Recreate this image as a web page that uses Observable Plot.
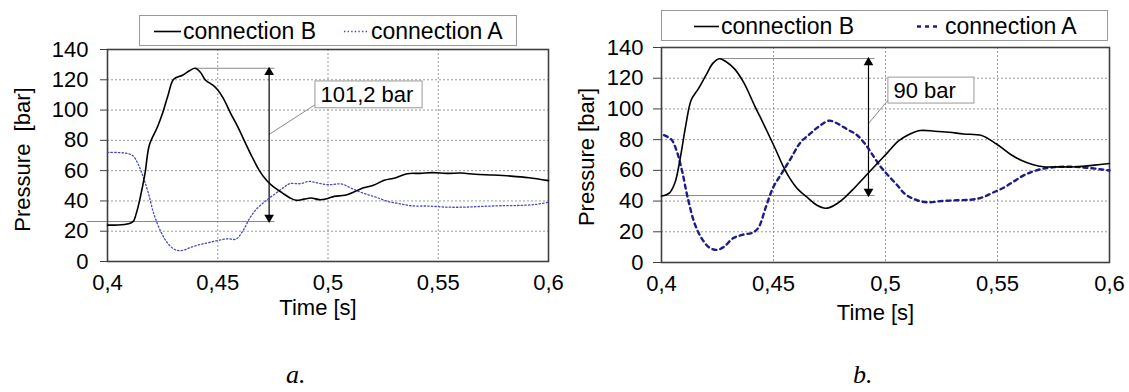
<!DOCTYPE html>
<html><head><meta charset="utf-8">
<script src="https://cdn.jsdelivr.net/npm/d3@7"></script>
<script src="https://cdn.jsdelivr.net/npm/@observablehq/plot@0.6"></script>
<style>
body{margin:0;background:#fff;font-family:"Liberation Sans",Arial,sans-serif;}
#wrap{position:relative;width:1129px;height:392px;overflow:hidden;background:#fff;}
.panel{position:absolute;top:0;}
.legend{position:absolute;box-sizing:border-box;border:1px solid #999;background:#fff;font-size:23px;color:#000;}
.legend span{position:absolute;white-space:nowrap;}
.legend svg{position:absolute;top:0;}
.cap{position:absolute;font-family:"Liberation Serif",serif;font-style:italic;font-size:26px;line-height:0.8;}
</style></head><body><div id="wrap"></div>
<script>
// ---- data ----
const leftTimeB = [0.4, 0.4113, 0.413, 0.4149, 0.417, 0.419, 0.4227, 0.425, 0.4275, 0.430, 0.434, 0.4372, 0.4397, 0.4421, 0.4445, 0.4478, 0.4502, 0.4526, 0.4559, 0.4591, 0.4623, 0.4656, 0.4688, 0.4721, 0.4753, 0.4794, 0.4826, 0.4855, 0.4891, 0.4923, 0.4964, 0.4996, 0.5028, 0.5077, 0.5117, 0.5158, 0.5206, 0.5255, 0.5304, 0.536, 0.5417, 0.5474, 0.5538, 0.5603, 0.5668, 0.5749, 0.583, 0.5911, 0.6];
const leftPressureB = [24, 26, 31.5, 42.6, 58, 77, 89, 98, 110, 120.4, 123, 126, 127.6, 125, 119.7, 116.4, 113, 107.6, 97.7, 88.9, 79, 69, 60.2, 53.6, 49.2, 45.2, 42.1, 40.4, 41.2, 41.9, 40.8, 41.5, 43, 43.7, 45.9, 48.5, 50.3, 53.6, 55.1, 58, 58.2, 58.7, 58.2, 58.4, 57.6, 57.1, 56.4, 55.3, 53.4];
const leftTimeA = [0.4, 0.4073, 0.4113, 0.4138, 0.4162, 0.4186, 0.421, 0.4243, 0.4275, 0.4308, 0.434, 0.4372, 0.4413, 0.4453, 0.4502, 0.4543, 0.4583, 0.4615, 0.4648, 0.468, 0.4721, 0.4761, 0.4802, 0.4826, 0.4875, 0.4915, 0.4955, 0.5004, 0.5061, 0.5109, 0.5166, 0.5215, 0.5271, 0.5328, 0.5377, 0.5457, 0.5538, 0.5619, 0.57, 0.5781, 0.5862, 0.5943, 0.6];
const leftPressureA = [72, 71.7, 70.1, 64.6, 55.8, 44.8, 31.5, 19.4, 11.7, 7.7, 7.3, 9, 11, 12.3, 13.9, 15, 14.8, 20.5, 29.3, 35.3, 40.4, 44.8, 49.2, 51.4, 51.4, 52.9, 51.8, 50.7, 51.2, 48.1, 44.8, 42.6, 39.7, 38.1, 36.8, 36.6, 35.9, 35.9, 36.4, 36.8, 37, 37.7, 39.2];

const rightTimeB = [0.4, 0.4036, 0.406, 0.4084, 0.4109, 0.4133, 0.4165, 0.4198, 0.423, 0.4258, 0.4287, 0.4327, 0.4368, 0.4417, 0.4457, 0.4506, 0.4554, 0.4603, 0.4652, 0.4692, 0.4733, 0.4773, 0.4814, 0.4862, 0.4911, 0.4959, 0.5008, 0.5057, 0.5105, 0.5154, 0.5219, 0.5284, 0.5348, 0.5429, 0.5494, 0.5559, 0.5608, 0.5656, 0.5705, 0.577, 0.5851, 0.5932, 0.6];
const rightPressureB = [43.3, 45.4, 51.9, 68.2, 89.8, 106, 113.2, 121.8, 129.8, 132.7, 130.9, 125.9, 116.9, 101.7, 89.8, 74.7, 59.5, 48.7, 42.2, 37.4, 35.3, 37.4, 41.8, 48.7, 56.3, 63.8, 71.4, 79, 83.3, 85.9, 85.5, 84.8, 83.7, 82.7, 77.3, 70.3, 66.4, 63.8, 62.3, 62.3, 62.3, 63.4, 64.5];
const rightTimeA = [0.4011, 0.4044, 0.4068, 0.4092, 0.4117, 0.4149, 0.4182, 0.4214, 0.4246, 0.4279, 0.4319, 0.436, 0.4408, 0.4433, 0.4465, 0.4498, 0.4538, 0.4579, 0.4619, 0.4668, 0.4708, 0.4749, 0.4789, 0.483, 0.487, 0.4911, 0.4943, 0.4976, 0.5008, 0.5049, 0.5089, 0.5138, 0.5186, 0.5251, 0.5316, 0.5381, 0.5429, 0.5478, 0.5527, 0.5575, 0.5624, 0.5689, 0.5754, 0.5835, 0.5899, 0.5964, 0.6];
const rightPressureA = [82.9, 80.1, 72.5, 59.5, 42.2, 24.9, 15.1, 9.7, 8.2, 10.2, 15.8, 18, 19.5, 22.7, 35.7, 48.7, 58.4, 68.2, 77.9, 84.4, 89.2, 92.4, 90.2, 86.6, 83.3, 76.8, 69.9, 62.8, 57.3, 50.9, 44.4, 40.7, 39.2, 40, 40.5, 40.9, 42.2, 45.4, 48.7, 53, 57.3, 60.6, 62.1, 62.3, 61.7, 60.6, 59.9];

const timeTicks = [0.4, 0.45, 0.5, 0.55, 0.6];
const pressureTicks = [0, 20, 40, 60, 80, 100, 120, 140];
const legendLabels = ["connection B", "connection A"];
const yLabels = ["Pressure\u00a0\u00a0[bar]", "Pressure [bar]"];
const xLabel = "Time [s]";
const panelCaptions = ["a.", "b."];

// pressure-range annotation (per panel: left, right)
const rangeLabels = ["101,2 bar", "90 bar"];
const rangeTop = [127.6, 132.8];
const rangeBottom = [26.4, 43.6];
const rangePeakTime = [0.4397, 0.4254];
const rangeBaseStart = [0.3905, 0.4];
const rangeLineEnd = [0.4757, 0.4951];
const rangeArrowTime = [0.4733, 0.4924];
const leaderFromPressure = [83.9, 90.5];
const boxTime1 = [0.4943, 0.5013];
const boxTime2 = [0.5429, 0.5397];
const boxPressure1 = [101.2, 103.5];
const boxPressure2 = [118.9, 120.4];

const fmt = d => String(d).replace(".", ",");
const zip = (ts, ps) => ts.map((t, i) => ({t, p: ps[i]}));

function panel(k, cfg) {
  const B = k === 0 ? zip(leftTimeB, leftPressureB) : zip(rightTimeB, rightPressureB);
  const A = k === 0 ? zip(leftTimeA, leftPressureA) : zip(rightTimeA, rightPressureA);
  const gray = "#8a8a8a";
  return Plot.plot({
    width: cfg.width, height: cfg.height,
    marginLeft: cfg.ml, marginRight: cfg.mr, marginTop: cfg.mt, marginBottom: cfg.mb,
    style: {fontFamily: "Liberation Sans, Arial, sans-serif", fontSize: "22px", color: "#000", background: "transparent", overflow: "visible"},
    x: {domain: [0.4, 0.6]},
    y: {domain: [0, 140]},
    marks: [
      Plot.gridX(timeTicks.slice(1, -1), {stroke: "#999", strokeOpacity: 1, strokeDasharray: "2,2"}),
      Plot.gridY(pressureTicks.slice(1, -1), {stroke: "#999", strokeOpacity: 1, strokeDasharray: "2,2"}),
      Plot.axisX(timeTicks, {tickSize: 0, tickPadding: 13, tickFormat: fmt, fontSize: 22, label: null}),
      Plot.axisY(pressureTicks, {tickSize: cfg.tickSize, tickPadding: cfg.tickPadding, stroke: "#404040", fontSize: 22, label: null}),
      // annotation lines
      Plot.link([k], {x1: i => rangePeakTime[i], y1: i => rangeTop[i], x2: i => rangeLineEnd[i], y2: i => rangeTop[i], stroke: gray, strokeWidth: 1}),
      Plot.link([k], {x1: i => rangeBaseStart[i], y1: i => rangeBottom[i], x2: i => rangeLineEnd[i], y2: i => rangeBottom[i], stroke: gray, strokeWidth: 1}),
      Plot.link([k], {x1: i => rangeArrowTime[i], y1: i => leaderFromPressure[i], x2: i => boxTime1[i], y2: i => boxPressure1[i] + 2.5, stroke: gray, strokeWidth: 1}),
      Plot.link([k], {x1: i => rangeArrowTime[i], y1: i => rangeTop[i], x2: i => rangeArrowTime[i], y2: i => rangeBottom[i], stroke: "#000", strokeWidth: 1.2}),
      Plot.dot([k], {x: i => rangeArrowTime[i], y: i => rangeTop[i], symbol: "triangle", r: 3.6, fill: "#000", stroke: null, dy: 4}),
      Plot.dot([k], {x: i => rangeArrowTime[i], y: i => rangeBottom[i], symbol: "triangle", r: 3.6, fill: "#000", stroke: null, dy: -4, rotate: 180}),
      Plot.frame({stroke: "#404040", strokeWidth: 1.6}),
      Plot.line(A, {x: "t", y: "p", stroke: cfg.aStroke, strokeDasharray: cfg.aDash, strokeWidth: cfg.aWidth, curve: "catmull-rom"}),
      Plot.line(B, {x: "t", y: "p", stroke: "#000", strokeWidth: 1.6, curve: "catmull-rom"}),
      Plot.rect([k], {x1: i => boxTime1[i], x2: i => boxTime2[i], y1: i => boxPressure1[i], y2: i => boxPressure2[i], fill: "#fff", stroke: "#999", strokeWidth: 1}),
      Plot.text([k], {x: i => boxTime1[i], y: i => (boxPressure1[i] + boxPressure2[i]) / 2, text: i => rangeLabels[i], textAnchor: "start", dx: 5, fontSize: 22, fill: "#000"}),
      Plot.text([yLabels[k]], {frameAnchor: "left", textAnchor: "middle", lineAnchor: "middle", rotate: -90, dx: cfg.yLabelDx, dy: cfg.yLabelDy, fontSize: 22, fill: "#000"}),
      Plot.text([xLabel], {frameAnchor: "bottom", lineAnchor: "middle", dy: cfg.timeDy, dx: cfg.timeDx, fontSize: 22, fill: "#000"})
    ]
  });
}

const wrap = document.getElementById("wrap");
const cfgs = [
  {left: 0, width: 560, height: 330, ml: 107, mr: 12, mt: 49, mb: 69, tickSize: 7, tickPadding: 12, aStroke: "#4646c8", aDash: "1.4,2.2", aWidth: 1.3, yLabelDx: -85, yLabelDy: 4, timeDy: 46, timeDx: -10},
  {left: 560, width: 569, height: 330, ml: 101, mr: 20, mt: 47, mb: 68, tickSize: 8, tickPadding: 10, aStroke: "#1c1c8a", aDash: "4,4", aWidth: 2.4, yLabelDx: -75, yLabelDy: 2, timeDy: 50, timeDx: -10}
];
cfgs.forEach((c, k) => {
  const svg = panel(k, c);
  svg.classList.add("panel");
  svg.style.left = c.left + "px";
  wrap.appendChild(svg);
});

// legends
const legends = [
  {left: 139, top: 15, width: 378, height: 31, items: [
    {x0: 14, x1: 41, tx: 43, stroke: "#000", dash: null, sw: 1.6},
    {x0: 204, x1: 228, tx: 231, stroke: "#4646c8", dash: "1.4,2.2", sw: 1.3}]},
  {left: 661, top: 10, width: 447, height: 31, items: [
    {x0: 32, x1: 57, tx: 59, stroke: "#000", dash: null, sw: 1.6},
    {x0: 255, x1: 279, tx: 283, stroke: "#1c1c8a", dash: "4,4", sw: 2.4}]}
];
legends.forEach(L => {
  const d = document.createElement("div");
  d.className = "legend";
  Object.assign(d.style, {left: L.left + "px", top: L.top + "px", width: L.width + "px", height: L.height + "px"});
  L.items.forEach((it, i) => {
    const ns = "http://www.w3.org/2000/svg";
    const s = document.createElementNS(ns, "svg");
    s.setAttribute("width", L.width); s.setAttribute("height", L.height);
    s.style.left = "0px";
    const ln = document.createElementNS(ns, "line");
    ln.setAttribute("x1", it.x0); ln.setAttribute("x2", it.x1);
    ln.setAttribute("y1", L.height / 2); ln.setAttribute("y2", L.height / 2);
    ln.setAttribute("stroke", it.stroke); ln.setAttribute("stroke-width", it.sw);
    if (it.dash) ln.setAttribute("stroke-dasharray", it.dash);
    s.appendChild(ln);
    d.appendChild(s);
    const sp = document.createElement("span");
    sp.textContent = legendLabels[i];
    sp.style.left = it.tx + "px";
    sp.style.top = "0px";
    sp.style.lineHeight = (L.height - 1) + "px";
    d.appendChild(sp);
  });
  wrap.appendChild(d);
});

// captions
[[286, 365], [853, 365]].forEach((p, k) => {
  const c = document.createElement("div");
  c.className = "cap";
  c.textContent = panelCaptions[k];
  c.style.left = p[0] + "px";
  c.style.top = p[1] + "px";
  wrap.appendChild(c);
});
</script>
</body></html>
